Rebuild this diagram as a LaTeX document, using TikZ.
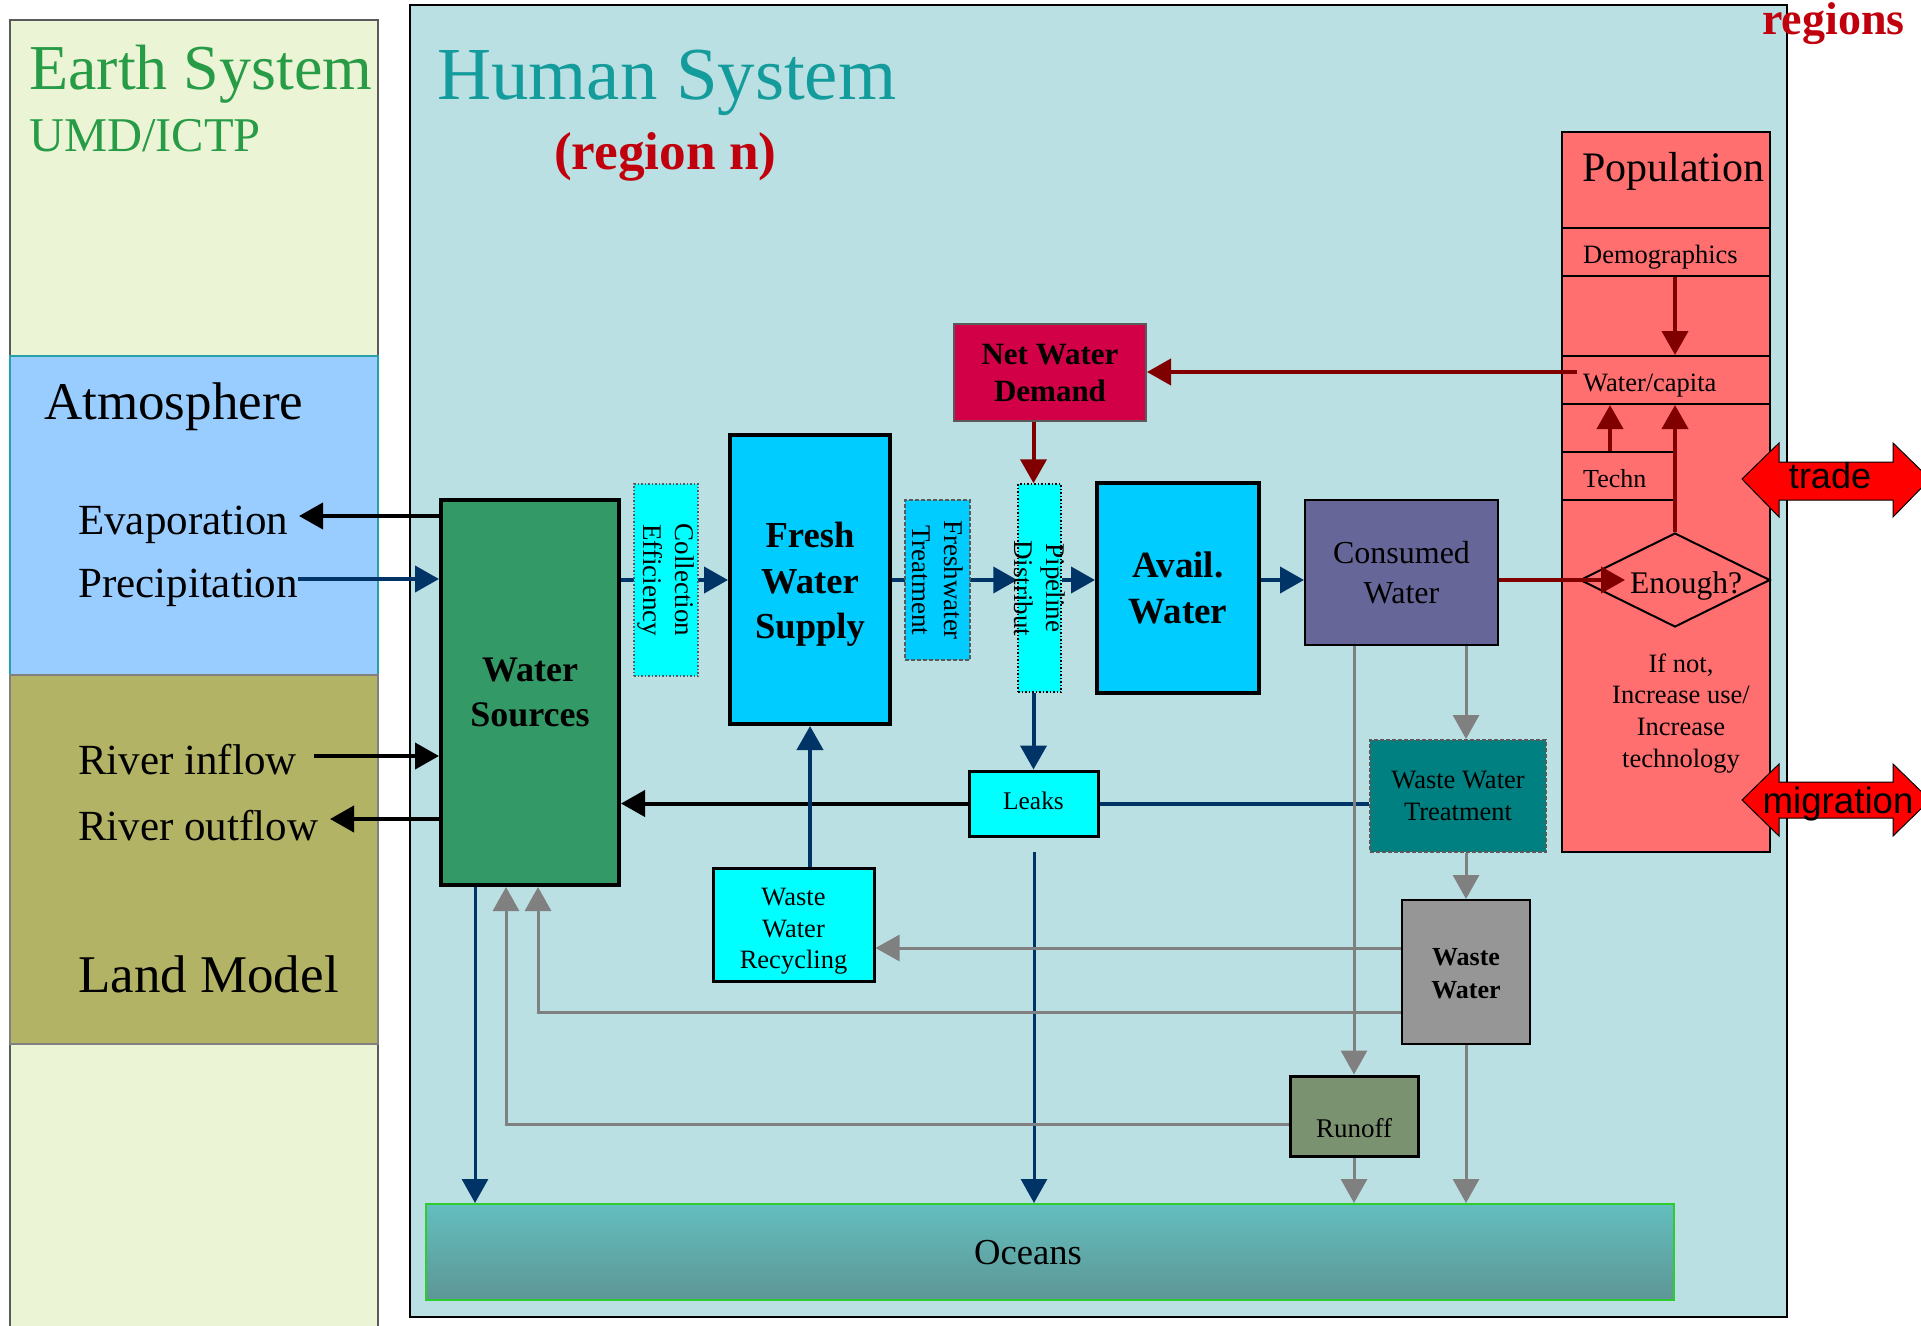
\documentclass[tikz,border=0pt]{standalone}
\usepackage{fontspec}
\setmainfont{Liberation Serif}
\setsansfont{Liberation Sans}
\usetikzlibrary{arrows.meta,shapes.geometric,calc}
\pgfdeclarelayer{panel}
\pgfdeclarelayer{edge}
\pgfsetlayers{panel,edge,main}
\definecolor{earthbg}{RGB}{235,245,214}
\definecolor{atmos}{RGB}{153,204,255}
\definecolor{atmosedge}{RGB}{40,160,170}
\definecolor{land}{RGB}{179,179,102}
\definecolor{humanbg}{RGB}{186,224,227}
\definecolor{popred}{RGB}{255,111,111}
\definecolor{nwdred}{RGB}{209,0,71}
\definecolor{skyb}{RGB}{0,204,255}
\definecolor{cyanb}{RGB}{0,255,255}
\definecolor{wsgreen}{RGB}{51,153,102}
\definecolor{consumed}{RGB}{102,102,153}
\definecolor{wwteal}{RGB}{0,128,128}
\definecolor{wwgray}{RGB}{150,150,150}
\definecolor{runoffc}{RGB}{122,146,112}
\definecolor{oceantop}{RGB}{99,190,190}
\definecolor{oceanbot}{RGB}{94,150,150}
\definecolor{oceanedge}{RGB}{46,204,46}
\definecolor{dblue}{RGB}{0,51,102}
\definecolor{dred}{RGB}{128,0,0}
\definecolor{lgray}{RGB}{128,128,128}
\definecolor{earthgreen}{RGB}{40,155,70}
\definecolor{humanteal}{RGB}{20,155,155}
\definecolor{regred}{RGB}{192,0,12}
\definecolor{bordergray}{RGB}{90,90,90}
\newcommand{\fsz}[2]{\fontsize{#1}{#2}\selectfont}
\tikzset{
  tipA/.style={-{Triangle[length=24pt,width=26pt]}},
  bluearr/.style={dblue, line width=4pt, tipA},
  blueln/.style={dblue, line width=4pt},
  thinblue/.style={dblue, line width=3pt, tipA},
  blackarr/.style={black, line width=4pt, tipA},
  redarr/.style={dred, line width=4pt, tipA},
  grayarr/.style={lgray, line width=3pt, tipA},
  wbox/.style={rectangle, inner sep=0pt, align=center, draw=black},
  rottext/.style={rotate=-90, align=center, inner sep=0pt, font=\fsz{27}{32}},
  lbl/.style={anchor=base west, inner sep=0pt},
  ctr/.style={anchor=base, inner sep=0pt},
  mtext/.style={align=center, inner sep=0pt},
}
\begin{document}
\begin{tikzpicture}[x=1pt,y=-1pt]
\useasboundingbox (0,0) rectangle (1921,1325);
\begin{pgfonlayer}{panel}
\fill[white] (0,0) rectangle (1921,1325);
\draw[fill=earthbg, draw=bordergray, line width=1.5pt] (10,20) rectangle (378,1340);
\draw[fill=atmos, draw=atmosedge, line width=1.5pt] (10,356) rectangle (378,675);
\draw[fill=land, draw=gray, line width=1.5pt] (10,675) rectangle (378,1044);
\draw[fill=humanbg, draw=black, line width=2pt] (410,5) rectangle (1787,1317);
\node[wbox, line width=2pt, fill=popred, minimum width=208pt, minimum height=720pt] (pop) at (1666,492) {};
\node[wbox, line width=2pt, fill=popred, minimum width=208pt, minimum height=48pt] (demog) at (1666,252) {};
\node[wbox, line width=2pt, fill=popred, minimum width=208pt, minimum height=48pt] (wcap) at (1666,380) {};
\node[wbox, line width=2pt, fill=popred, minimum width=112pt, minimum height=48pt] (techn) at (1618,476) {};
\node[diamond, draw=black, line width=2pt, fill=popred, minimum width=190pt, minimum height=94pt, inner sep=0pt] (enough) at (1675,580) {};
\end{pgfonlayer}

% titles
\node[lbl, text=earthgreen, font=\fsz{64}{70}] (tearth) at (29,89) {Earth System};
\node[lbl, text=earthgreen, font=\fsz{48.5}{52}] (tumd) at (29,151) {UMD/ICTP};
\node[lbl, text=humanteal, font=\fsz{74.8}{80}] (thuman) at (437,99) {Human System};
\node[lbl, text=regred, font=\bfseries\fsz{53.3}{56}] (tregion) at (554,169) {(region n)};
\node[lbl, font=\fsz{53}{56}] (tatm) at (44,419) {Atmosphere};
\node[lbl, font=\fsz{43}{46}] (tevap) at (78,534) {Evaporation};
\node[lbl, font=\fsz{43}{46}] (tprec) at (78,597) {Precipitation};
\node[lbl, font=\fsz{43}{46}] (trin) at (78,774) {River inflow};
\node[lbl, font=\fsz{43}{46}] (trout) at (78,840) {River outflow};
\node[lbl, font=\fsz{53}{56}] (tland) at (78,992) {Land Model};

% boxes
\node[wbox, line width=4pt, fill=wsgreen, minimum width=178pt, minimum height=385pt, font=\bfseries\fsz{36}{45}] (ws) at (530,692.5) {Water\\Sources};
\node[wbox, dotted, line width=1.5pt, draw=bordergray, fill=cyanb, minimum width=64pt, minimum height=192pt] (ce) at (666,580) {};
\node[wbox, line width=4pt, fill=skyb, minimum width=160pt, minimum height=289pt] (fws) at (810,579.5) {};
\node[mtext, font=\bfseries\fsz{36.6}{45.5}] (tfws) at ([yshift=-5pt]fws.center) {Fresh\\Water\\Supply};
\node[wbox, dash pattern=on 4pt off 2pt, line width=1.5pt, draw=bordergray, fill=skyb, minimum width=65pt, minimum height=160pt] (ft) at (937.5,580) {};
\node[wbox, dotted, line width=1.5pt, draw=black, fill=cyanb, minimum width=43pt, minimum height=208pt] (pipe) at (1039.5,588) {};
\node[wbox, line width=4pt, fill=skyb, minimum width=162pt, minimum height=210pt, font=\bfseries\fsz{37}{46}] (avail) at (1178,588) {Avail.\\Water};
\node[wbox, line width=2pt, fill=consumed, minimum width=193pt, minimum height=145pt, font=\fsz{32}{40}] (cons) at (1401.5,572.5) {Consumed\\Water};
\node[wbox, line width=2pt, draw=bordergray, fill=nwdred, minimum width=192pt, minimum height=97pt, font=\bfseries\fsz{31}{37}] (nwd) at (1050,372.5) {Net Water\\Demand};
\node[wbox, line width=3pt, fill=cyanb, minimum width=129pt, minimum height=65pt] (leaks) at (1033.5,803.5) {};
\node[ctr, font=\fsz{25.4}{30}] (tleaks) at (1033.5,809) {Leaks};
\node[wbox, dash pattern=on 4pt off 2pt, line width=2pt, draw=bordergray, fill=wwteal, minimum width=176pt, minimum height=112pt, font=\fsz{26.5}{32}] (wwt) at (1458,796) {Waste Water\\Treatment};
\node[wbox, line width=3pt, fill=cyanb, minimum width=161pt, minimum height=113pt] (wwr) at (793.5,924.5) {};
\node[mtext, font=\fsz{26.5}{31.5}] (twwr) at ([yshift=-7pt]wwr.center) {Waste\\Water\\Recycling};
\node[wbox, line width=2pt, fill=wwgray, minimum width=128pt, minimum height=144pt] (ww) at (1466,972) {};
\node[mtext, font=\bfseries\fsz{26}{33}] (tww) at ([yshift=-2pt]ww.center) {Waste\\Water};
\node[wbox, line width=3pt, fill=runoffc, minimum width=128pt, minimum height=80pt] (runoff) at (1354,1116) {};
\node[ctr, font=\fsz{27}{30}] (trunoff) at (1354,1137) {Runoff};
\node[wbox, draw=oceanedge, line width=2pt, top color=oceantop, bottom color=oceanbot, minimum width=1248pt, minimum height=96pt] (oceans) at (1050,1252) {};
\node[ctr, font=\fsz{36.6}{40}] (toceans) at (1028,1264) {Oceans};

% rotated labels
\node[rottext] (tce) at (ce) {Collection\\Efficiency};
\node[rottext] (tft) at (ft) {Freshwater\\Treatment};
\node[rottext] (tpipe) at (pipe) {Pipeline\\Distribut};

% population texts
\node[lbl, font=\fsz{42}{46}] (tpop) at (1582,181) {Population};
\node[lbl, font=\fsz{26.5}{28}] (tdemog) at (1583,263) {Demographics};
\node[lbl, font=\fsz{26.5}{28}] (twcap) at (1583,391) {Water/capita};
\node[lbl, font=\fsz{26}{28}] (ttechn) at (1583,487) {Techn};
\node[lbl, font=\fsz{31.5}{34}] (tenough) at (1630,593) {Enough?};
\node[ctr, font=\fsz{26.5}{30}] (tifn1) at (1681,672) {If not,};
\node[ctr, font=\fsz{26.5}{30}] (tifn2) at (1681,703) {Increase use/};
\node[ctr, font=\fsz{26.5}{30}] (tifn3) at (1681,735) {Increase};
\node[ctr, font=\fsz{26.5}{30}] (tifn4) at (1681,767) {technology};

% coordinates
\coordinate (flowy) at (0,580);
\coordinate (evap) at (299,516);
\coordinate (prec) at (298,579);
\coordinate (rin) at (314,756);
\coordinate (rout) at (330,819);
\coordinate (wcapout) at (1577,372);
\coordinate (enoughin) at (1625,580);
\coordinate (leaksout) at (1034,852);
\coordinate (wwa) at (1402,948);
\coordinate (wwb) at (1402,1012);
\coordinate (rnf) at (1290,1124);

\begin{pgfonlayer}{edge}
% earth exchange
\draw[blackarr] (ws.west |- evap) -- (evap);
\draw[bluearr] (prec) -- (ws.west |- prec);
\draw[blackarr] (rin) -- (ws.west |- rin);
\draw[blackarr] (ws.west |- rout) -- (rout);
% main flow
\draw[bluearr] (ws.east |- flowy) -- (fws.west |- flowy);
\draw[bluearr] (fws.east |- flowy) -- (pipe.west |- flowy);
\draw[bluearr] (pipe.east |- flowy) -- (avail.west |- flowy);
\draw[bluearr] (avail.east |- flowy) -- (cons.west |- flowy);
\draw[redarr] (cons.east |- flowy) -- (enoughin);
% demand
\draw[redarr] (wcapout) -- (nwd.east |- wcapout);
\draw[redarr] (nwd.south -| leaks.north) -- (pipe.north -| leaks.north);
\draw[redarr] (demog.south -| enough.north) -- (wcap.north -| enough.north);
\draw[redarr] (enough.north) -- (enough.north |- wcap.south);
\draw[redarr] ([xshift=-8pt]techn.north) -- ([xshift=-8pt]techn.north |- wcap.south);
% leaks
\draw[bluearr] (pipe.south -| leaks.north) -- (leaks.north);
\draw[blackarr] (leaks.west) -- (ws.east |- leaks.west);
\draw[blueln] (leaks.east) -- (wwt.west |- leaks.east);
\draw[thinblue] (leaksout) -- (leaksout |- oceans.north);
\draw[bluearr] (fws.south |- wwr.north) -- (fws.south);
\draw[thinblue] ([xshift=-55pt]ws.south) -- ([xshift=-55pt]ws.south |- oceans.north);
% waste water
\draw[grayarr] (cons.south -| ww.north) -- (wwt.north -| ww.north);
\draw[grayarr] (wwt.south -| ww.north) -- (ww.north);
\draw[grayarr] (cons.south -| runoff.north) -- (runoff.north);
\draw[grayarr] (runoff.south) -- (runoff.south |- oceans.north);
\draw[grayarr] (ww.south) -- (ww.south |- oceans.north);
\draw[grayarr] (wwa) -- (wwr.east |- wwa);
\draw[grayarr] (wwb) -| ([xshift=8pt]ws.south);
\draw[grayarr] (rnf) -| ([xshift=-24pt]ws.south);
\end{pgfonlayer}

% trade and migration
\draw[fill=red, draw=black, line width=1pt] (1742,479) -- (1779,443) -- (1779,462) -- (1893,462) -- (1893,443) -- (1930,479) -- (1893,517) -- (1893,500) -- (1779,500) -- (1779,517) -- cycle;
\node[ctr, font=\sffamily\fsz{36}{40}] (ttrade) at (1830,488) {trade};
\draw[fill=red, draw=black, line width=1pt] (1742,800) -- (1779,764) -- (1779,782) -- (1893,782) -- (1893,764) -- (1930,800) -- (1893,836) -- (1893,818) -- (1779,818) -- (1779,836) -- cycle;
\node[ctr, font=\sffamily\fsz{36.7}{40}] (tmig) at (1838,813) {migration};
\node[lbl, text=regred, font=\bfseries\fsz{46}{50}] (tregions) at (1762,34) {regions};
\end{tikzpicture}
\end{document}
